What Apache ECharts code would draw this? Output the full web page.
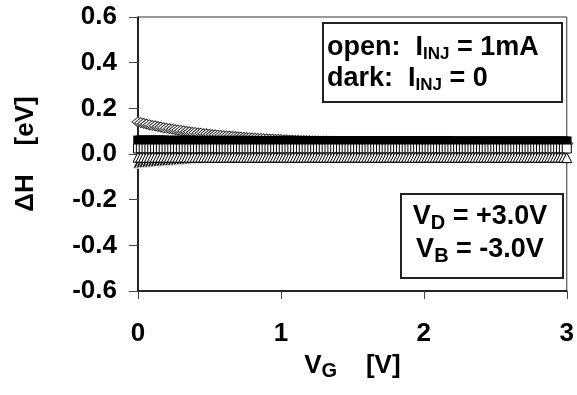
<!DOCTYPE html>
<html><head><meta charset="utf-8">
<script src="https://cdn.jsdelivr.net/npm/echarts@6/dist/echarts.min.js"></script>
<style>html,body{margin:0;padding:0;background:#fff}#c{width:577px;height:395px}</style>
</head><body><div id="c"></div>
<script>
// gate voltage V_G [V]
const vg = [
0.00,0.02,0.04,0.06,0.08,0.10,0.12,0.14,0.16,0.18,
0.20,0.22,0.24,0.26,0.28,0.30,0.32,0.34,0.36,0.38,
0.40,0.42,0.44,0.46,0.48,0.50,0.52,0.54,0.56,0.58,
0.60,0.62,0.64,0.66,0.68,0.70,0.72,0.74,0.76,0.78,
0.80,0.82,0.84,0.86,0.88,0.90,0.92,0.94,0.96,0.98,
1.00,1.02,1.04,1.06,1.08,1.10,1.12,1.14,1.16,1.18,
1.20,1.22,1.24,1.26,1.28,1.30,1.32,1.34,1.36,1.38,
1.40,1.42,1.44,1.46,1.48,1.50,1.52,1.54,1.56,1.58,
1.60,1.62,1.64,1.66,1.68,1.70,1.72,1.74,1.76,1.78,
1.80,1.82,1.84,1.86,1.88,1.90,1.92,1.94,1.96,1.98,
2.00,2.02,2.04,2.06,2.08,2.10,2.12,2.14,2.16,2.18,
2.20,2.22,2.24,2.26,2.28,2.30,2.32,2.34,2.36,2.38,
2.40,2.42,2.44,2.46,2.48,2.50,2.52,2.54,2.56,2.58,
2.60,2.62,2.64,2.66,2.68,2.70,2.72,2.74,2.76,2.78,
2.80,2.82,2.84,2.86,2.88,2.90,2.92,2.94,2.96,2.98,
3.00];
// open diamonds
const openDiamond = [
0.140,0.137,0.134,0.131,0.128,0.125,0.123,0.120,0.118,0.115,
0.113,0.111,0.109,0.107,0.105,0.103,0.101,0.099,0.097,0.095,
0.094,0.092,0.091,0.089,0.088,0.086,0.085,0.084,0.082,0.081,
0.080,0.079,0.078,0.077,0.076,0.075,0.074,0.073,0.072,0.071,
0.070,0.069,0.068,0.068,0.067,0.066,0.065,0.065,0.064,0.064,
0.063,0.062,0.062,0.061,0.061,0.060,0.060,0.059,0.059,0.058,
0.058,0.057,0.057,0.057,0.056,0.056,0.056,0.055,0.055,0.055,
0.054,0.054,0.054,0.053,0.053,0.053,0.053,0.052,0.052,0.052,
0.052,0.052,0.051,0.051,0.051,0.051,0.051,0.050,0.050,0.050,
0.050,0.050,0.050,0.049,0.049,0.049,0.049,0.049,0.049,0.049,
0.048,0.048,0.048,0.048,0.048,0.048,0.048,0.048,0.048,0.048,
0.048,0.048,0.048,0.048,0.048,0.047,0.047,0.047,0.047,0.047,
0.047,0.047,0.047,0.047,0.047,0.047,0.047,0.047,0.047,0.047,
0.047,0.047,0.046,0.046,0.046,0.046,0.046,0.046,0.046,0.046,
0.046,0.046,0.046,0.046,0.046,0.046,0.046,0.046,0.046,0.046,
0.046];
// dark filled squares
const darkSquare = [
0.060,0.060,0.060,0.060,0.060,0.060,0.060,0.060,0.060,0.060,
0.059,0.059,0.059,0.059,0.059,0.059,0.059,0.059,0.059,0.059,
0.058,0.058,0.058,0.058,0.058,0.058,0.058,0.058,0.058,0.058,
0.058,0.058,0.058,0.058,0.058,0.058,0.058,0.058,0.058,0.058,
0.057,0.057,0.057,0.057,0.057,0.057,0.057,0.057,0.057,0.057,
0.057,0.057,0.057,0.057,0.057,0.057,0.057,0.057,0.057,0.057,
0.057,0.057,0.057,0.057,0.057,0.057,0.057,0.057,0.057,0.057,
0.057,0.057,0.057,0.057,0.057,0.057,0.057,0.057,0.057,0.057,
0.057,0.057,0.057,0.057,0.057,0.057,0.057,0.057,0.057,0.057,
0.057,0.057,0.057,0.057,0.057,0.057,0.057,0.057,0.057,0.057,
0.057,0.057,0.057,0.057,0.057,0.057,0.057,0.057,0.057,0.057,
0.056,0.056,0.056,0.056,0.056,0.056,0.056,0.056,0.056,0.056,
0.056,0.056,0.056,0.056,0.056,0.056,0.056,0.056,0.056,0.056,
0.056,0.056,0.056,0.056,0.056,0.056,0.056,0.056,0.056,0.056,
0.056,0.056,0.056,0.056,0.056,0.056,0.056,0.056,0.056,0.056,
0.056];
// open squares
const openSquare = [
0.024,0.024,0.024,0.024,0.024,0.024,0.024,0.024,0.024,0.024,
0.024,0.024,0.024,0.024,0.024,0.024,0.024,0.024,0.024,0.024,
0.024,0.024,0.024,0.024,0.024,0.024,0.024,0.024,0.024,0.024,
0.024,0.024,0.024,0.024,0.024,0.024,0.024,0.024,0.024,0.024,
0.024,0.024,0.024,0.024,0.024,0.024,0.024,0.024,0.024,0.024,
0.024,0.024,0.024,0.024,0.024,0.024,0.024,0.024,0.024,0.024,
0.024,0.024,0.024,0.024,0.024,0.024,0.024,0.024,0.024,0.024,
0.024,0.024,0.024,0.024,0.024,0.024,0.024,0.024,0.024,0.024,
0.024,0.024,0.024,0.024,0.024,0.024,0.024,0.024,0.024,0.024,
0.024,0.024,0.024,0.024,0.024,0.024,0.024,0.024,0.024,0.024,
0.024,0.024,0.024,0.024,0.024,0.024,0.024,0.024,0.024,0.024,
0.024,0.024,0.024,0.024,0.024,0.024,0.024,0.024,0.024,0.024,
0.024,0.024,0.024,0.024,0.024,0.024,0.024,0.024,0.024,0.024,
0.024,0.024,0.024,0.024,0.024,0.024,0.024,0.024,0.024,0.024,
0.024,0.024,0.024,0.024,0.024,0.024,0.024,0.024,0.024,0.024,
0.024];
// dark triangles
const darkTriangle = [
-0.040,-0.039,-0.038,-0.037,-0.036,-0.035,-0.034,-0.033,-0.032,-0.031,
-0.030,-0.029,-0.028,-0.027,-0.026,-0.025,-0.024,-0.023,-0.022,-0.021,
-0.020,-0.020,-0.019,-0.019,-0.018,-0.018,-0.017,-0.017,-0.016,-0.016,
-0.015,-0.015,-0.015,-0.015,-0.015,-0.015,-0.015,-0.015,-0.015,-0.015,
-0.015,-0.015,-0.015,-0.015,-0.015,-0.015,-0.015,-0.015,-0.015,-0.015,
-0.015,-0.015,-0.015,-0.015,-0.015,-0.015,-0.015,-0.015,-0.015,-0.015,
-0.015,-0.015,-0.015,-0.015,-0.015,-0.015,-0.015,-0.015,-0.015,-0.015,
-0.015,-0.015,-0.015,-0.015,-0.015,-0.015,-0.015,-0.015,-0.015,-0.015,
-0.015,-0.015,-0.015,-0.015,-0.015,-0.015,-0.015,-0.015,-0.015,-0.015,
-0.015,-0.015,-0.015,-0.015,-0.015,-0.015,-0.015,-0.015,-0.015,-0.015,
-0.015,-0.015,-0.015,-0.015,-0.015,-0.015,-0.015,-0.015,-0.015,-0.015,
-0.015,-0.015,-0.015,-0.015,-0.015,-0.015,-0.015,-0.015,-0.015,-0.015,
-0.015,-0.015,-0.015,-0.015,-0.015,-0.015,-0.015,-0.015,-0.015,-0.015,
-0.015,-0.015,-0.015,-0.015,-0.015,-0.015,-0.015,-0.015,-0.015,-0.015,
-0.015,-0.015,-0.015,-0.015,-0.015,-0.015,-0.015,-0.015,-0.015,-0.015,
-0.015];
// open triangles
const openTriangle = [
-0.014,-0.014,-0.014,-0.014,-0.014,-0.014,-0.014,-0.014,-0.014,-0.014,
-0.014,-0.014,-0.014,-0.014,-0.014,-0.014,-0.014,-0.014,-0.014,-0.014,
-0.014,-0.014,-0.014,-0.014,-0.014,-0.014,-0.014,-0.014,-0.014,-0.014,
-0.014,-0.014,-0.014,-0.014,-0.014,-0.014,-0.014,-0.014,-0.014,-0.014,
-0.014,-0.014,-0.014,-0.014,-0.014,-0.014,-0.014,-0.014,-0.014,-0.014,
-0.014,-0.014,-0.014,-0.014,-0.014,-0.014,-0.014,-0.014,-0.014,-0.014,
-0.014,-0.014,-0.014,-0.014,-0.014,-0.014,-0.014,-0.014,-0.014,-0.014,
-0.014,-0.014,-0.014,-0.014,-0.014,-0.014,-0.014,-0.014,-0.014,-0.014,
-0.014,-0.014,-0.014,-0.014,-0.014,-0.014,-0.014,-0.014,-0.014,-0.014,
-0.014,-0.014,-0.014,-0.014,-0.014,-0.014,-0.014,-0.014,-0.014,-0.014,
-0.014,-0.014,-0.014,-0.014,-0.014,-0.014,-0.014,-0.014,-0.014,-0.014,
-0.014,-0.014,-0.014,-0.014,-0.014,-0.014,-0.014,-0.014,-0.014,-0.014,
-0.014,-0.014,-0.014,-0.014,-0.014,-0.014,-0.014,-0.014,-0.014,-0.014,
-0.014,-0.014,-0.014,-0.014,-0.014,-0.014,-0.014,-0.014,-0.014,-0.014,
-0.014,-0.014,-0.014,-0.014,-0.014,-0.014,-0.014,-0.014,-0.014,-0.014,
-0.016];
const yTickLabels = ['-0.6','-0.4','-0.2','0.0','0.2','0.4','0.6'];
const xTickLabels = ['0','1','2','3'];

const FONT = "'Liberation Sans', Arial, sans-serif";
const pairs = arr => vg.map((x, i) => [x, arr[i]]);
const chart = echarts.init(document.getElementById('c'), null, {renderer: 'canvas'});

function scatter(arr, symbol, size, fill, stroke, lw) {
  return {
    type: 'scatter', data: pairs(arr), symbol: symbol, symbolSize: size,
    itemStyle: {color: fill, borderColor: stroke, borderWidth: lw, opacity: 1},
    emphasis: {disabled: true}, animation: false, silent: true
  };
}

chart.setOption({
  animation: false,
  backgroundColor: '#fff',
  grid: {left: 138, top: 17, width: 430, height: 274, show: true, borderColor: '#333', borderWidth: 1, backgroundColor: 'transparent'},
  xAxis: {
    type: 'value', min: 0, max: 3, interval: 1,
    axisLine: {show: true, onZero: false, lineStyle: {color: '#000', width: 1.5}},
    axisTick: {show: true, inside: false, length: 8, lineStyle: {color: '#444', width: 1}},
    splitLine: {show: false},
    axisLabel: {margin: 30, fontSize: 26, fontWeight: 'bold', fontFamily: FONT, color: '#000',
      formatter: v => xTickLabels[Math.round(v)]},
    name: '{m|V}{s|G}{m|    [V]}', nameLocation: 'middle', nameGap: 60,
    nameTextStyle: {rich: {
      m: {fontSize: 26, fontWeight: 'bold', fontFamily: FONT, color: '#000', lineHeight: 30},
      s: {fontSize: 20, fontWeight: 'bold', fontFamily: FONT, color: '#000', lineHeight: 10, verticalAlign: 'bottom'}
    }}
  },
  yAxis: {
    type: 'value', min: -0.6, max: 0.6, interval: 0.2,
    axisLine: {show: true, onZero: false, lineStyle: {color: '#000', width: 1.5}},
    axisTick: {show: true, inside: false, length: 9, lineStyle: {color: '#444', width: 1}},
    splitLine: {show: false},
    axisLabel: {margin: 21, fontSize: 26, fontWeight: 'bold', fontFamily: FONT, color: '#000',
      formatter: v => yTickLabels[Math.round((v + 0.6) / 0.2)]},
    name: 'ΔH    [eV]', nameLocation: 'middle', nameGap: 99, nameRotate: 90,
    nameTextStyle: {fontSize: 26, fontWeight: 'bold', fontFamily: FONT, color: '#000'}
  },
  series: [
    scatter(openDiamond, 'diamond', [12, 10], '#fff', '#333', 1),
    scatter(darkSquare, 'rect', 9, '#000', '#000', 0.5),
    scatter(openSquare, 'rect', 9, '#fff', '#000', 1),
    scatter(darkTriangle, 'triangle', 10, '#111', '#fff', 0.8),
    scatter(openTriangle, 'triangle', 10, '#fff', '#000', 1)
  ],
  graphic: [
    {type: 'rect', shape: {x: 323, y: 23, width: 239, height: 79}, style: {fill: '#fff', stroke: '#222', lineWidth: 2}, z: 100},
    {type: 'text', x: 327, y: 32, z: 101, style: {
      text: '{m|open:  I}{s|INJ}{m| = 1mA}\n{m|dark:  I}{s|INJ}{m| = 0}',
      verticalAlign: 'top', align: 'left',
      rich: {
        m: {fontSize: 27, fontWeight: 'bold', fontFamily: FONT, fill: '#000', lineHeight: 31},
        s: {fontSize: 17, fontWeight: 'bold', fontFamily: FONT, fill: '#000', lineHeight: 15, verticalAlign: 'bottom'}
      }}},
    {type: 'rect', shape: {x: 401, y: 194, width: 162, height: 84}, style: {fill: '#fff', stroke: '#222', lineWidth: 2}, z: 100},
    {type: 'text', x: 480, y: 200, z: 101, style: {
      text: '{m|V}{s|D}{m| = +3.0V}\n{m|V}{s|B}{m| = -3.0V}',
      verticalAlign: 'top', align: 'center',
      rich: {
        m: {fontSize: 27, fontWeight: 'bold', fontFamily: FONT, fill: '#000', lineHeight: 33},
        s: {fontSize: 20, fontWeight: 'bold', fontFamily: FONT, fill: '#000', lineHeight: 20, verticalAlign: 'bottom'}
      }}}
  ]
});
</script>
</body></html>
